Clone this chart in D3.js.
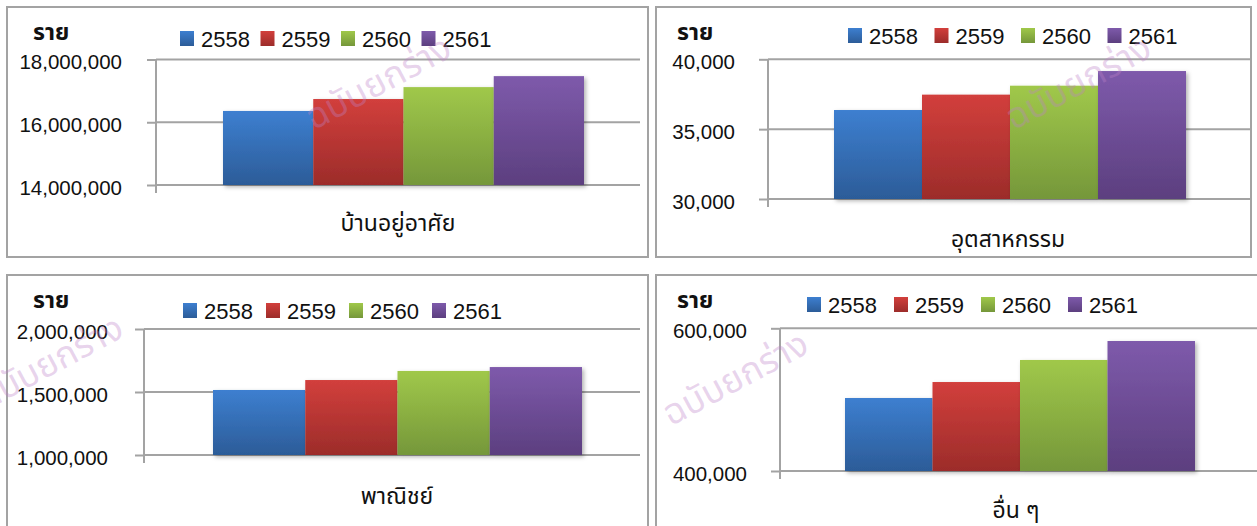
<!DOCTYPE html>
<html>
<head>
<meta charset="utf-8">
<script src="https://cdn.jsdelivr.net/npm/d3@7"></script>
<style>
  body { margin: 0; background: #fff; }
  text { font-family: Tahoma, "Noto Sans Thai", "Noto Sans", "DejaVu Sans", sans-serif; fill: #111; }
  .num { font-family: "Liberation Sans", Arial, sans-serif; }
</style>
</head>
<body>
<div id="viz"></div>
<script>
// data
var years = ['2558', '2559', '2560', '2561'];
var categories = ['บ้านอยู่อาศัย', 'อุตสาหกรรม', 'พาณิชย์', 'อื่น ๆ'];
var residential = [16360000, 16740000, 17120000, 17470000];
var industrial = [36370, 37470, 38110, 39160];
var commercial = [1516000, 1595000, 1667000, 1698000];
var others = [502300, 524700, 555600, 582200];
var residentialTicks = [14000000, 16000000, 18000000];
var industrialTicks = [30000, 35000, 40000];
var commercialTicks = [1000000, 1500000, 2000000];
var othersTicks = [400000, 600000];
var unitLabel = 'ราย';
var watermark = 'ฉบับยกร่าง';

// colours of each year: top and bottom of the gradient
var topColors = ['#3d7fd0', '#d23f3c', '#a0c84a', '#7e5aab'];
var bottomColors = ['#2c5c98', '#9c2c2a', '#75973a', '#5c3f7f'];

// layout of the four panels
var panels = [
  {values: residential, ticks: residentialTicks, cat: 0,
   box: [7, 7, 641, 250], axisX: 156, right: 640, yTop: 59.5, yBottom: 185,
   bars: [223, 584], labelRight: 122, unit: [33, 40], legend: [180, 39, 80.5], catPos: [398, 231]},
  {values: industrial, ticks: industrialTicks, cat: 1,
   box: [656, 7, 595, 250], axisX: 768, right: 1251, yTop: 59.3, yBottom: 199,
   bars: [834, 1186], labelRight: 735, unit: [677, 40], legend: [848, 36, 86.5], catPos: [1008, 247]},
  {values: commercial, ticks: commercialTicks, cat: 2,
   box: [7, 275, 641, 270], axisX: 144, right: 640, yTop: 329, yBottom: 455,
   bars: [213, 582], labelRight: 108, unit: [33, 308], legend: [183, 311, 83], catPos: [397, 504]},
  {values: others, ticks: othersTicks, cat: 3,
   box: [656, 275, 620, 270], axisX: 780, right: 1257, yTop: 328.3, yBottom: 471,
   bars: [845, 1195], labelRight: 747, unit: [677, 308], legend: [807, 305, 87], catPos: [1016, 518]}
];

var svg = d3.select('#viz').append('svg')
  .attr('width', 1257)
  .attr('height', 526);

var defs = svg.append('defs');
years.forEach(function(y, i) {
  var g = defs.append('linearGradient')
    .attr('id', 'grad' + i)
    .attr('x1', 0).attr('y1', 0).attr('x2', 0).attr('y2', 1);
  g.append('stop').attr('offset', '0%').attr('stop-color', topColors[i]);
  g.append('stop').attr('offset', '100%').attr('stop-color', bottomColors[i]);
});
defs.append('filter').attr('id', 'shadow')
  .attr('x', '-10%').attr('y', '-10%').attr('width', '130%').attr('height', '130%')
  .append('feDropShadow')
  .attr('dx', 2).attr('dy', 2).attr('stdDeviation', 2)
  .attr('flood-color', '#000').attr('flood-opacity', 0.3);

var gray = '#a3a3a3';

panels.forEach(function(p) {
  var g = svg.append('g');

  // panel border
  g.append('rect')
    .attr('x', p.box[0]).attr('y', p.box[1])
    .attr('width', p.box[2]).attr('height', p.box[3])
    .attr('fill', 'none').attr('stroke', gray).attr('stroke-width', 2);

  var yDomain = [p.ticks[0], p.ticks[p.ticks.length - 1]];
  var y = d3.scaleLinear().domain(yDomain).range([p.yBottom, p.yTop]);
  var x = d3.scaleBand().domain(years).range(p.bars).padding(0);

  // gridlines
  g.selectAll('.grid')
    .data(p.ticks).enter()
    .append('line')
    .attr('x1', p.axisX).attr('x2', p.right)
    .attr('y1', function(d) { return y(d); })
    .attr('y2', function(d) { return y(d); })
    .attr('stroke', gray).attr('stroke-width', 2);

  // y axis with ticks and labels
  var axis = g.append('g')
    .attr('transform', 'translate(' + p.axisX + ',0)')
    .call(d3.axisLeft(y)
      .tickValues(p.ticks)
      .tickFormat(d3.format(','))
      .tickSize(9)
      .tickPadding(p.axisX - 9 - p.labelRight));
  axis.select('.domain').remove();
  axis.selectAll('.tick line').attr('stroke', gray).attr('stroke-width', 2);
  axis.selectAll('.tick text')
    .attr('class', 'num')
    .attr('font-size', 20.5)
    .attr('dy', '0.45em')
    .attr('fill', '#111');
  g.append('line')
    .attr('x1', p.axisX).attr('x2', p.axisX)
    .attr('y1', p.yTop).attr('y2', p.yBottom + 8)
    .attr('stroke', gray).attr('stroke-width', 2);

  // bars
  g.selectAll('.bar')
    .data(p.values).enter()
    .append('rect')
    .attr('x', function(d, i) { return x(years[i]); })
    .attr('y', function(d) { return y(d); })
    .attr('width', x.bandwidth())
    .attr('height', function(d) { return p.yBottom - y(d); })
    .attr('fill', function(d, i) { return 'url(#grad' + i + ')'; })
    .attr('filter', 'url(#shadow)');

  // unit label
  g.append('text')
    .attr('x', p.unit[0]).attr('y', p.unit[1])
    .attr('font-size', 23).attr('font-weight', 'bold')
    .text(unitLabel);

  // legend
  var leg = g.selectAll('.leg')
    .data(years).enter()
    .append('g')
    .attr('transform', function(d, i) {
      return 'translate(' + (p.legend[0] + i * p.legend[2]) + ',' + p.legend[1] + ')';
    });
  leg.append('rect')
    .attr('x', 0).attr('y', -8)
    .attr('width', 14).attr('height', 15)
    .attr('fill', function(d, i) { return 'url(#grad' + i + ')'; });
  leg.append('text')
    .attr('class', 'num')
    .attr('x', 21).attr('y', 8)
    .attr('font-size', 22)
    .text(function(d) { return d; });

  // category label
  g.append('text')
    .attr('x', p.catPos[0]).attr('y', p.catPos[1])
    .attr('text-anchor', 'middle')
    .attr('font-size', 23)
    .text(categories[p.cat]);
});

// watermarks
var marks = [[378, 82], [1078, 82], [50, 362], [735, 378]];
svg.selectAll('.mark')
  .data(marks).enter()
  .append('text')
  .attr('transform', function(d) { return 'translate(' + d[0] + ',' + d[1] + ') rotate(-28)'; })
  .attr('text-anchor', 'middle')
  .attr('dy', '0.35em')
  .attr('font-size', 36)
  .style('fill', 'rgba(190, 130, 200, 0.35)')
  .text(watermark);
</script>
</body>
</html>
